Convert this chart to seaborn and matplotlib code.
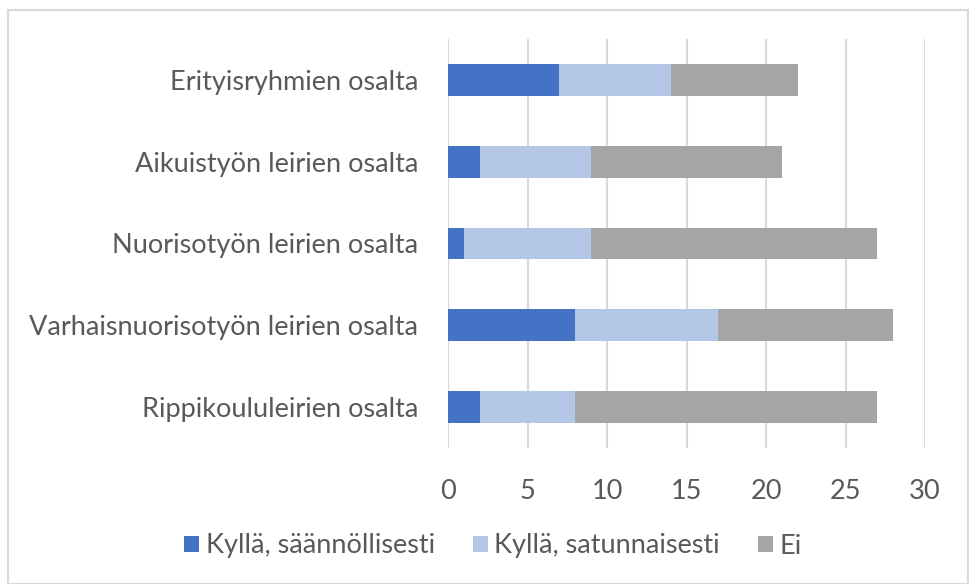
import matplotlib
matplotlib.use("Agg")
import matplotlib.pyplot as plt
import seaborn as sns
import pandas as pd
import numpy as np
from matplotlib.patches import Rectangle, Patch

categories = ["Erityisryhmien osalta", "Aikuistyön leirien osalta", "Nuorisotyön leirien osalta",
              "Varhaisnuorisotyön leirien osalta", "Rippikoululeirien osalta"]
series_names = ["Kyllä, säännöllisesti", "Kyllä, satunnaisesti", "Ei"]
saannollisesti = [7, 2, 1, 8, 2]
satunnaisesti = [7, 7, 8, 9, 6]
ei = [8, 12, 18, 11, 19]
x_ticks = [0, 5, 10, 15, 20, 25, 30]
colors = ["#4472C4", "#B4C7E7", "#A5A5A5"]

sns.set_theme(style="white")
plt.rcParams['font.family'] = ['Lato', 'DejaVu Sans']
text_color = "#595959"
fs = 19.5

df = pd.DataFrame({"cat": categories, "s1": saannollisesti, "s2": satunnaisesti, "s3": ei})
df["c1"] = df["s1"]
df["c2"] = df["s1"] + df["s2"]
df["c3"] = df["c2"] + df["s3"]

fig = plt.figure(figsize=(9.69, 5.84), dpi=100)
W, H = 969, 584
ax = fig.add_axes([448 / W, 1 - 448 / H, (925 - 448) / W, (448 - 39) / H])

bw = 0.39
for col, color in zip(["c3", "c2", "c1"], colors[::-1]):
    sns.barplot(data=df, x=col, y="cat", orient="h", color=color, width=bw,
                saturation=1, ax=ax, order=categories, linewidth=0, errorbar=None)

ax.set_xlim(0, 30)
ax.set_ylim(4.5, -0.5)
ax.set_xticks(x_ticks)
ax.set_xticklabels([str(t) for t in x_ticks])
ax.xaxis.grid(True, color="#d9d9d9", linewidth=1.5)
ax.set_axisbelow(True)
for s in ax.spines.values():
    s.set_visible(False)
ax.set_xlabel("")
ax.set_ylabel("")
ax.tick_params(axis="x", length=0, pad=22, labelsize=fs, labelcolor=text_color)
ax.tick_params(axis="y", length=0, pad=21.5, labelsize=fs, labelcolor=text_color)

handles = [Patch(facecolor=c, edgecolor="none") for c in colors]
fig.legend(handles, series_names, loc="center", bbox_to_anchor=(493 / W, 1 - 546 / H),
           ncol=3, frameon=False, fontsize=fs, labelcolor=text_color,
           handlelength=0.55, handleheight=0.55, handletextpad=0.25, columnspacing=1.4)

fig.patches.append(Rectangle((8 / W, 0), (968 - 8) / W, (584 - 10) / H, transform=fig.transFigure,
                             fill=False, edgecolor="#d9d9d9", linewidth=1.5))

fig.savefig("out.png", dpi=100, facecolor="white")
